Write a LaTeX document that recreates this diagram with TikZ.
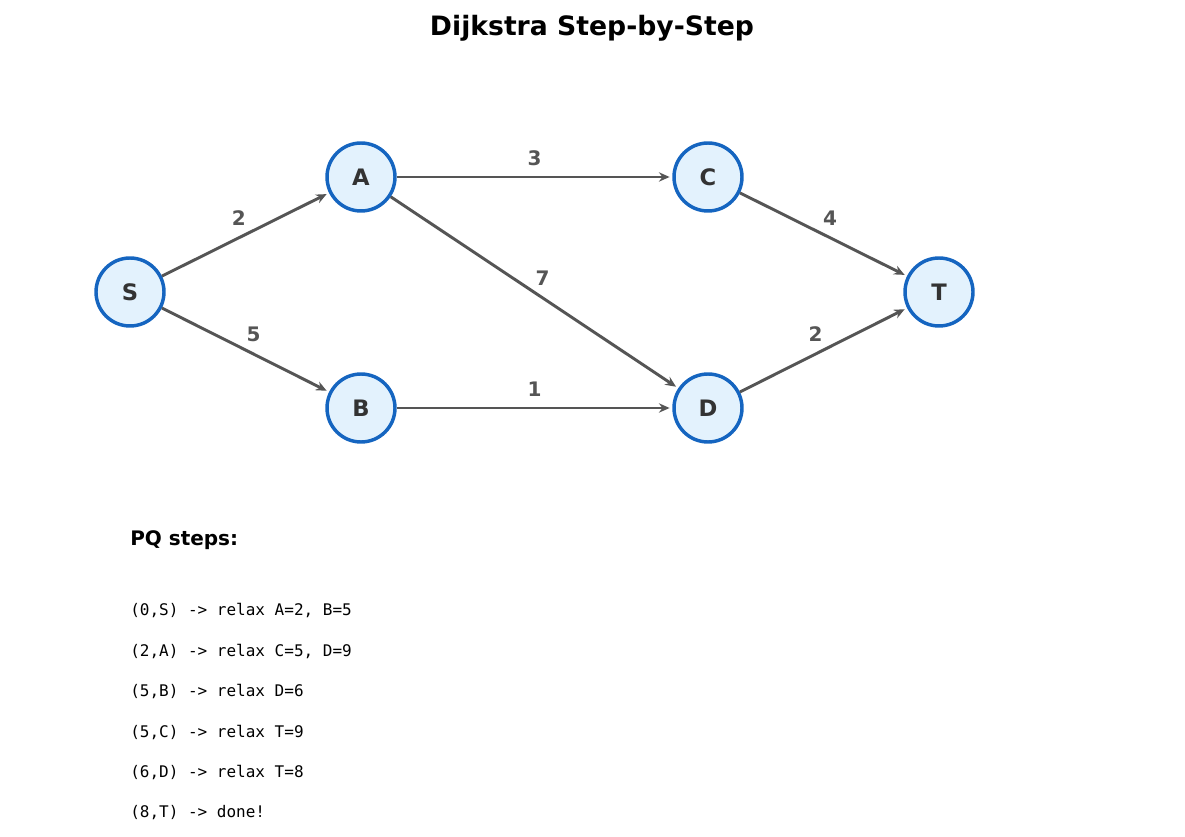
\documentclass[tikz,border=0pt]{standalone}
\usepackage{fontspec}
\setmainfont{DejaVu Sans}
\setmonofont{DejaVu Sans Mono}
\usetikzlibrary{arrows.meta}
\definecolor{nodeline}{HTML}{1565C0}
\definecolor{nodefill}{HTML}{E3F2FD}
\definecolor{edgecol}{HTML}{555555}
\definecolor{txtcol}{HTML}{333333}
\begin{document}
\begin{tikzpicture}[x=0.75pt,y=-0.75pt,
  vert/.style={circle,draw=nodeline,fill=nodefill,line width=2.6pt,
    minimum size=51pt,inner sep=0pt,text=txtcol,font=\fontsize{17}{17}\bfseries},
  edge/.style={draw=edgecol,line width=2.2pt,-{Stealth[length=8pt,width=7pt]},shorten >=2pt},
  wt/.style={text=edgecol,font=\fontsize{15}{15}\bfseries},
  pqline/.style={anchor=west,inner sep=0pt,font=\ttfamily\fontsize{12}{12}\selectfont}]
\useasboundingbox (0,0) rectangle (1185,837);
\node[font=\fontsize{20}{20}\bfseries] (title) at (592,28) {Dijkstra Step-by-Step};
\node[vert] (S) at (130,292) {S};
\node[vert] (A) at (361,177) {A};
\node[vert] (B) at (361,408) {B};
\node[vert] (C) at (708,177) {C};
\node[vert] (D) at (708,408) {D};
\node[vert] (T) at (939,292) {T};
\path[edge] (S) -- (A) node[wt,midway,xshift=-5pt,yshift=12pt] {2};
\path[edge] (S) -- (B) node[wt,midway,xshift=6pt,yshift=12pt] {5};
\path[edge] (A) -- (C) node[wt,midway,yshift=14pt] {3};
\path[edge] (A) -- (D) node[wt,midway,xshift=6pt,yshift=11pt] {7};
\path[edge] (B) -- (D) node[wt,midway,yshift=14pt] {1};
\path[edge] (C) -- (T) node[wt,midway,xshift=5pt,yshift=12pt] {4};
\path[edge] (D) -- (T) node[wt,midway,xshift=-6pt,yshift=12pt] {2};
\node[anchor=west,inner sep=0pt,font=\fontsize{15}{15}\bfseries] (pq) at (130,540) {PQ steps:};
\node[pqline] (s1) at (130,610) {(0,S) -> relax A=2, B=5};
\node[pqline] (s2) at (130,651) {(2,A) -> relax C=5, D=9};
\node[pqline] (s3) at (130,691) {(5,B) -> relax D=6};
\node[pqline] (s4) at (130,732) {(5,C) -> relax T=9};
\node[pqline] (s5) at (130,772) {(6,D) -> relax T=8};
\node[pqline] (s6) at (130,813) {(8,T) -> done!};
\end{tikzpicture}
\end{document}
